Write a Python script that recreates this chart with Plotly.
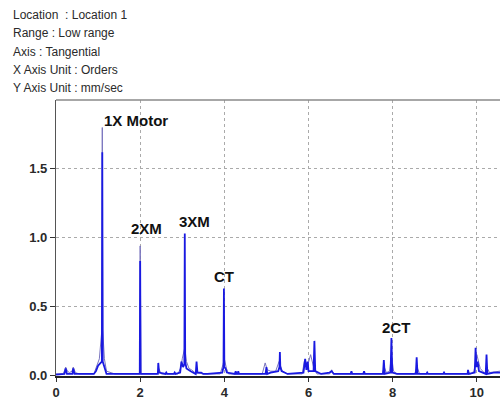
import plotly.graph_objects as go

# ---- data ----
main_orders = [0.0, 0.2, 0.23, 0.26, 0.39, 0.41, 0.44, 0.9, 0.95, 1.0, 1.06, 1.09, 1.1, 1.11, 1.15, 1.2,
               1.99, 2.0, 2.01, 2.03, 2.42, 2.43, 2.45, 2.6, 2.62, 2.64, 2.8, 2.82, 2.84, 2.95, 2.98, 3.02,
               3.05, 3.06, 3.07, 3.1, 3.14, 3.2, 3.32, 3.34, 3.36, 3.45, 3.5, 3.6, 3.95, 3.98, 3.99, 4.0,
               4.03, 4.06, 4.25, 4.27, 4.29, 4.32, 4.33, 4.35, 4.6, 4.98, 5.0, 5.02, 5.1, 5.28, 5.31, 5.32,
               5.33, 5.36, 5.5, 5.88, 5.92, 5.95, 5.98, 6.0, 6.12, 6.14, 6.16, 6.3, 6.5, 6.55, 6.6, 6.9,
               7.0, 7.02, 7.04, 7.3, 7.32, 7.34, 7.6, 7.77, 7.79, 7.81, 7.95, 7.97, 7.99, 8.1, 8.3, 8.55,
               8.57, 8.59, 8.8, 8.82, 8.84, 9.2, 9.22, 9.24, 9.5, 9.78, 9.79, 9.81, 9.95, 9.97, 9.99, 10.02,
               10.05, 10.21, 10.23, 10.25, 10.4, 10.55]
main_amps = [0.005, 0.01, 0.05, 0.01, 0.01, 0.05, 0.01, 0.01, 0.03, 0.07, 0.09, 0.1, 1.62, 0.1, 0.06, 0.01,
             0.01, 0.83, 0.01, 0.01, 0.01, 0.09, 0.02, 0.01, 0.02, 0.01, 0.01, 0.02, 0.01, 0.02, 0.1, 0.06,
             0.08, 1.03, 0.1, 0.05, 0.04, 0.03, 0.01, 0.1, 0.02, 0.02, 0.01, 0.01, 0.02, 0.06, 0.63, 0.06,
             0.05, 0.02, 0.01, 0.03, 0.01, 0.01, 0.03, 0.01, 0.01, 0.01, 0.06, 0.01, 0.02, 0.03, 0.06, 0.17,
             0.06, 0.03, 0.01, 0.02, 0.12, 0.04, 0.1, 0.03, 0.03, 0.25, 0.03, 0.01, 0.02, 0.03, 0.01, 0.01,
             0.01, 0.03, 0.01, 0.01, 0.03, 0.01, 0.01, 0.01, 0.11, 0.01, 0.02, 0.27, 0.02, 0.01, 0.01, 0.01,
             0.13, 0.01, 0.01, 0.02, 0.01, 0.01, 0.02, 0.01, 0.01, 0.01, 0.04, 0.01, 0.02, 0.2, 0.06, 0.1,
             0.03, 0.01, 0.15, 0.01, 0.02, 0.02]

env_orders = [0.0, 0.17, 0.21, 0.23, 0.27, 0.32, 0.38, 0.41, 0.46, 0.55, 0.9, 0.98, 1.03, 1.09, 1.1, 1.11,
              1.15, 1.2, 1.4, 1.99, 2.0, 2.01, 2.02, 2.4, 2.44, 2.5, 2.9, 2.97, 3.0, 3.06, 3.1, 3.16, 3.22,
              3.3, 3.5, 3.9, 3.97, 4.0, 4.05, 4.1, 4.9, 4.97, 5.02, 5.1, 5.22, 5.3, 5.38, 5.5, 5.85, 5.9,
              5.97, 6.05, 6.12, 6.2, 6.5, 6.55, 6.6, 7.75, 7.8, 7.85, 7.93, 7.97, 8.02, 8.1, 8.52, 8.58,
              8.64, 9.85, 9.93, 10.0, 10.08, 10.15, 10.2, 10.25, 10.3, 10.55]
env_amps = [0.01, 0.01, 0.04, 0.06, 0.03, 0.02, 0.03, 0.06, 0.02, 0.01, 0.01, 0.08, 0.12, 0.33, 1.80, 0.33,
            0.12, 0.03, 0.01, 0.01, 0.94, 0.5, 0.01, 0.01, 0.05, 0.01, 0.01, 0.06, 0.12, 0.2, 0.1, 0.05, 0.04,
            0.02, 0.01, 0.01, 0.08, 0.12, 0.05, 0.01, 0.01, 0.09, 0.04, 0.03, 0.03, 0.1, 0.03, 0.01, 0.01,
            0.1, 0.06, 0.15, 0.06, 0.01, 0.01, 0.04, 0.01, 0.01, 0.06, 0.02, 0.03, 0.15, 0.03, 0.01, 0.01,
            0.06, 0.01, 0.01, 0.03, 0.15, 0.05, 0.03, 0.01, 0.05, 0.02, 0.03]

peak_labels = ["1X Motor", "2XM", "3XM", "CT", "2CT"]
peak_label_x = [1.10, 2.15, 3.28, 3.99, 8.09]
peak_label_y = [1.85, 1.07, 1.12, 0.72, 0.35]

header_lines = ["Location  : Location 1", "Range : Low range", "Axis : Tangential",
                "X Axis Unit : Orders", "Y Axis Unit : mm/sec"]

x_ticks = [0, 2, 4, 6, 8, 10]
y_ticks = [0.0, 0.5, 1.0, 1.5]

# ---- figure ----
fig = go.Figure()
fig.add_trace(go.Scatter(x=env_orders, y=env_amps, mode="lines",
                         line=dict(color="rgb(120,115,190)", width=1), hoverinfo="skip"))
fig.add_trace(go.Scatter(x=main_orders, y=main_amps, mode="lines",
                         line=dict(color="rgb(25,25,225)", width=1.8)))

for i, t in enumerate(peak_labels):
    fig.add_annotation(x=peak_label_x[i], y=peak_label_y[i], text="<b>" + t + "</b>", showarrow=False,
                       xanchor="left" if i == 0 else "center", yanchor="middle",
                       font=dict(family="Liberation Sans, Arial", size=15, color="#111"),
                       xref="x", yref="y")

W, H = 500, 403
L, R, T, B = 56, 0, 100, 27
pw, ph = W - L - R, H - T - B
for i, t in enumerate(header_lines):
    py = 15 + i * 18.3
    fig.add_annotation(x=(11 - L) / pw, y=(H - B - py) / ph, xref="paper", yref="paper",
                       text=t, showarrow=False, xanchor="left", yanchor="middle",
                       font=dict(family="Liberation Sans, Arial", size=12, color="#2a2a2a"))

# grey frame line along the top of the plot area
fig.add_shape(type="line", xref="paper", yref="paper", x0=0, x1=1, y0=1, y1=1,
              line=dict(color="#8a8a8a", width=1.6))

tickfont = dict(family="Liberation Sans, Arial", size=13, color="#2a2a2a", weight="bold")
fig.update_layout(
    width=W, height=H, margin=dict(l=L, r=R, t=T, b=B),
    plot_bgcolor="white", paper_bgcolor="white", showlegend=False,
    xaxis=dict(range=[0, 10.55], tickvals=x_ticks, ticktext=[str(v) for v in x_ticks],
               showgrid=True, gridcolor="#aaa", griddash="dot", gridwidth=1,
               showline=True, linecolor="#222", linewidth=1.5,
               ticks="outside", ticklen=4, tickcolor="#333", tickfont=tickfont, zeroline=False),
    yaxis=dict(range=[-0.005, 2.0], tickvals=y_ticks, tickformat=".1f",
               showgrid=True, gridcolor="#aaa", griddash="dot", gridwidth=1,
               showline=True, linecolor="#555", linewidth=1.2,
               ticks="outside", ticklen=5, tickcolor="#333", tickfont=tickfont, zeroline=False),
)

fig.write_html("out.html", config={"displayModeBar": False})

# remove the default page margin so the figure sits at the window's top-left corner
with open("out.html", "r", encoding="utf-8") as f:
    html = f.read()
html = html.replace("<head>", "<head><style>html,body{margin:0;padding:0;overflow:hidden;}</style>", 1)
with open("out.html", "w", encoding="utf-8") as f:
    f.write(html)
